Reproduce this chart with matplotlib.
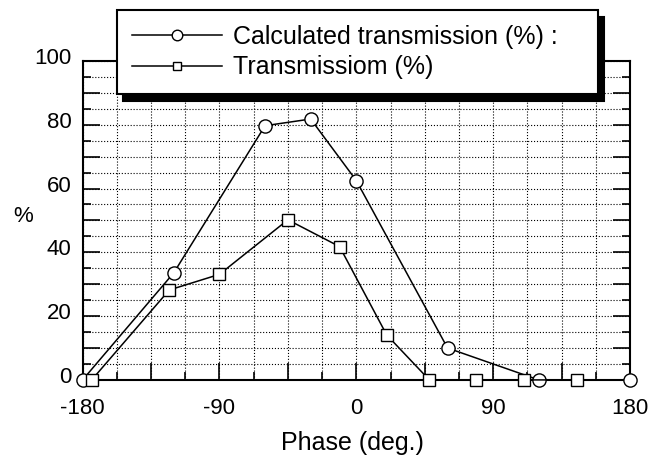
import matplotlib
matplotlib.use('Agg')
import matplotlib.pyplot as plt
from matplotlib.ticker import MultipleLocator, FuncFormatter
from matplotlib import transforms

plt.rcParams['font.family'] = ['Liberation Sans', 'DejaVu Sans']

# calculated transmission (circles)
phase_calc = [-180, -120, -60, -30, 0, 60, 120, 180]
trans_calc = [0, 33.6, 79.7, 81.8, 62.5, 10, 0, 0]
# measured transmission (squares)
phase_meas = [-174, -123, -90, -45, -11, 20, 48, 79, 110, 145]
trans_meas = [0, 28.2, 33.1, 50.2, 41.8, 14.1, 0, 0, 0, 0]

labels = ['Calculated transmission (%) :', 'Transmissiom (%)']

fig = plt.figure(figsize=(6.66, 4.55), dpi=100)
ax = fig.add_axes([0.124, 0.165, 0.822, 0.701])

l1, = ax.plot(phase_calc, trans_calc, color='black', lw=1.1, marker='o', ms=9.5,
              mfc='white', mec='black', mew=1, clip_on=False, zorder=4)
l2, = ax.plot(phase_meas, trans_meas, color='black', lw=1.1, marker='s', ms=8,
              mfc='white', mec='black', mew=1, clip_on=False, zorder=4)

ax.set_xlim(-180, 180)
ax.set_ylim(0, 100)

ax.xaxis.set_major_locator(MultipleLocator(45))
ax.xaxis.set_minor_locator(MultipleLocator(22.5))
ax.xaxis.set_major_formatter(FuncFormatter(lambda v, p: f'{v:.0f}' if v % 90 == 0 else ''))
ax.yaxis.set_major_locator(MultipleLocator(10))
ax.yaxis.set_minor_locator(MultipleLocator(5))
ax.yaxis.set_major_formatter(FuncFormatter(lambda v, p: f'{v:.0f}' if v % 20 == 0 else ''))

ax.grid(which='both', linestyle=':', color='black', linewidth=0.8)
ax.tick_params(which='both', direction='in', top=True, right=True, width=1.2)
ax.tick_params(which='major', length=12, labelsize=16)
ax.tick_params(axis='x', which='major', pad=13)
ax.tick_params(axis='y', which='major', pad=8)
ax.tick_params(which='minor', length=6)
for s in ax.spines.values():
    s.set_linewidth(1.5)

shift = transforms.ScaledTranslation(0, 0.05, fig.dpi_scale_trans)
for lbl in ax.get_yticklabels():
    lbl.set_transform(lbl.get_transform() + shift)

fig.text(352/666, 1-450/455, 'Phase (deg.)', ha='center', va='baseline', fontsize=18)
fig.text(23/666, 1-216/455, '%', ha='center', va='center', fontsize=16)

leg = fig.legend([l1, l2], labels, loc='upper left',
                 bbox_to_anchor=(117/666, 1-95/455, 481/666, 85/455),
                 mode='expand', borderaxespad=0, fontsize=18, frameon=True,
                 fancybox=False, edgecolor='black', framealpha=1,
                 handlelength=3.6, handletextpad=0.45, labelspacing=0.25,
                 borderpad=0.6, markerscale=0.8,
                 shadow={'ox': 4, 'oy': -5, 'color': 'black', 'alpha': 1})
leg.get_frame().set_linewidth(1.5)

fig.savefig('out.png', dpi=100)
